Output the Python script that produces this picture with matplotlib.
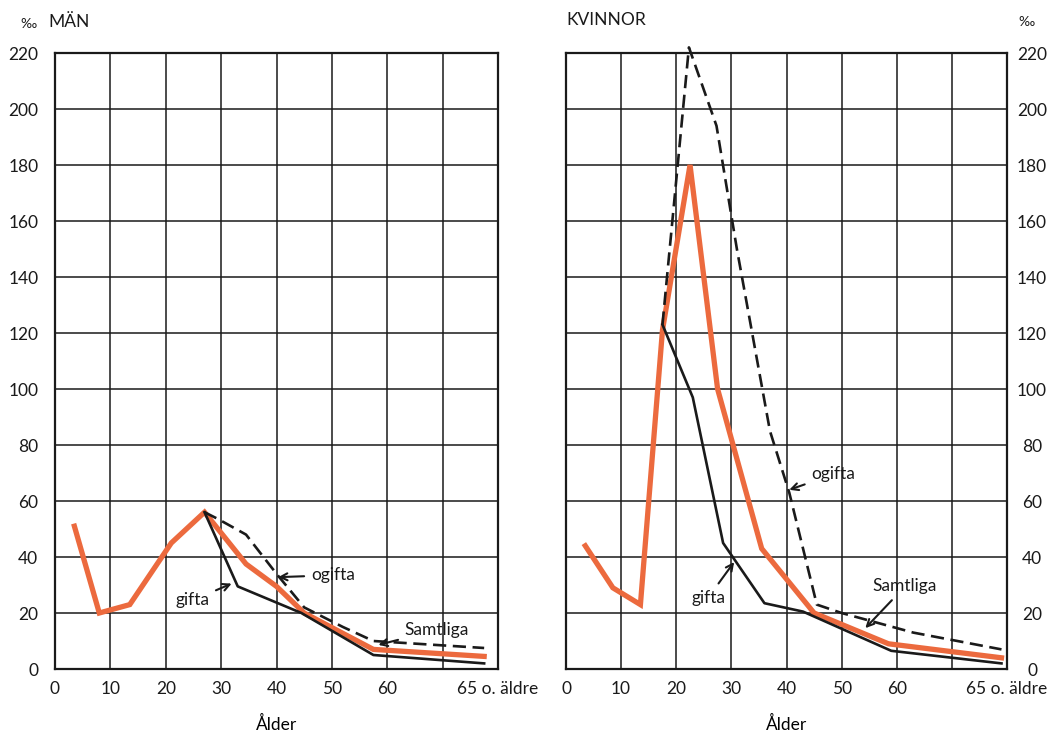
import matplotlib
matplotlib.use("Agg")
import matplotlib.pyplot as plt

# age (group midpoint, years) and rate (per mille)
man_age_all = [3.5, 8, 13.5, 21, 27, 34.5, 40, 45, 57.5, 77.5]
man_all = [51, 20, 23, 45, 56, 37.5, 29.5, 20, 7, 4.5]
man_age_married = [27, 33, 44.5, 57.5, 77.5]
man_married = [56, 29.5, 20, 5, 2]
man_age_single = [27, 29.5, 34.5, 40, 45, 52, 57.5, 77.5]
man_single = [56, 53.5, 48, 34, 22, 15, 10, 7.5]

kv_age_all = [3.5, 8.5, 13.5, 17.5, 22.5, 27.5, 35.5, 45, 58.5, 79]
kv_all = [44, 29, 23, 121, 180, 100, 43, 20, 9, 4]
kv_age_married = [17.5, 23, 28.5, 36, 43, 59, 79]
kv_married = [123, 97, 45, 23.5, 20.5, 6.5, 2]
kv_age_single = [17.5, 22.3, 27.3, 31, 37, 40.5, 45.5, 50, 56.5, 63, 79]
kv_single = [123, 222, 194, 150, 85, 63, 23, 20, 16.5, 13, 7]

x_ticks = [0, 10, 20, 30, 40, 50, 60, 70, 80]
x_labels = ["0", "10", "20", "30", "40", "50", "60", "", "65 o. äldre"]
y_ticks = list(range(0, 221, 20))

ORANGE = "#ec6a3e"
INK = "#1a1a1a"

plt.rcParams["font.family"] = ["Lato", "DejaVu Sans"]
plt.rcParams["font.size"] = 12.5

fig = plt.figure(figsize=(10.54, 7.35), dpi=100)
ax1 = fig.add_axes([55 / 1054, 66 / 735, 443 / 1054, 616 / 735])
ax2 = fig.add_axes([566 / 1054, 66 / 735, 441 / 1054, 616 / 735])


def style_panel(ax, right=False):
    ax.set_xlim(0, 80)
    ax.set_ylim(0, 220)
    ax.set_xticks(x_ticks)
    ax.set_xticklabels(x_labels)
    ax.set_yticks(y_ticks)
    ax.grid(True, color=INK, linewidth=1.1)
    ax.set_axisbelow(True)
    for s in ax.spines.values():
        s.set_linewidth(1.6)
        s.set_color(INK)
    ax.tick_params(length=0, labelsize=12.5, colors=INK)
    ax.tick_params(axis="x", pad=9)
    if right:
        ax.yaxis.tick_right()
        ax.tick_params(axis="y", pad=18)
        for t in ax.get_yticklabels():
            t.set_horizontalalignment("center")
    else:
        ax.tick_params(axis="y", pad=12)
    ax.set_xlabel("Ålder", labelpad=13, fontsize=12.5)


def draw(ax, a_all, v_all, a_m, v_m, a_s, v_s):
    ax.plot(a_all, v_all, color=ORANGE, lw=3.8, solid_joinstyle="miter",
            clip_on=False, zorder=3)
    ax.plot(a_m, v_m, color=INK, lw=1.9, clip_on=False, zorder=4)
    ax.plot(a_s, v_s, color=INK, lw=1.9, linestyle=(0, (5, 2.5)),
            clip_on=False, zorder=4)


def label(ax, text, xy, xytext):
    ax.annotate(text, xy=xy, xytext=xytext, ha="center", va="center",
                fontsize=12.5, color=INK, zorder=6,
                arrowprops=dict(arrowstyle="->", lw=1.5, color=INK,
                                shrinkA=3, shrinkB=0))


style_panel(ax1)
style_panel(ax2, right=True)

draw(ax1, man_age_all, man_all, man_age_married, man_married,
     man_age_single, man_single)
draw(ax2, kv_age_all, kv_all, kv_age_married, kv_married,
     kv_age_single, kv_single)

label(ax1, "gifta", (31.9, 30.5), (24.8, 24.5))
label(ax1, "ogifta", (40.3, 32.8), (50.2, 33.5))
label(ax1, "Samtliga", (58.4, 8.6), (69, 14))

label(ax2, "gifta", (30.5, 38.2), (25.8, 25.5))
label(ax2, "ogifta", (40.5, 64), (48.5, 69.5))
label(ax2, "Samtliga", (54.3, 14.6), (61.5, 29.5))

fig.text(20 / 1054, 1 - 24 / 735, "‰", fontsize=10, va="center", color=INK)
fig.text(48 / 1054, 1 - 22 / 735, "MÄN", fontsize=12.5, va="center", color=INK)
fig.text(566 / 1054, 1 - 20 / 735, "KVINNOR", fontsize=12.5, va="center",
         color=INK)
fig.text(1018 / 1054, 1 - 22 / 735, "‰", fontsize=10, va="center", color=INK)

fig.savefig("out.png", dpi=100, facecolor="white")
